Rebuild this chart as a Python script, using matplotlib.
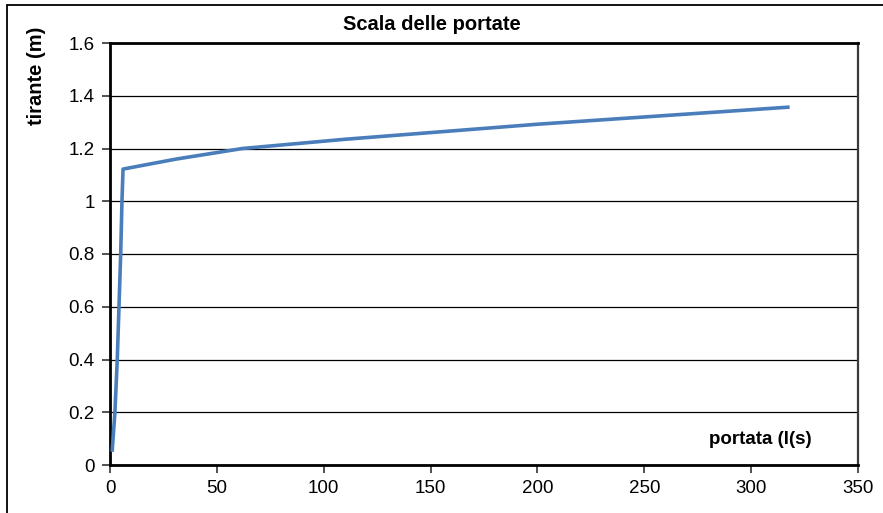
import matplotlib
matplotlib.use("Agg")
import matplotlib.pyplot as plt
from matplotlib.patches import Rectangle

plt.rcParams['font.family'] = ['Liberation Sans', 'DejaVu Sans']

# Rating curve: discharge (l/s) vs stage (m)
portata = [1.0, 2.3, 3.4, 4.2, 5.0, 5.6, 6.1, 31.0, 62.0, 110.0, 200.0, 318.0]
tirante = [0.05, 0.20, 0.40, 0.60, 0.80, 1.00, 1.122, 1.16, 1.20, 1.235, 1.292, 1.357]

x_ticks = [0, 50, 100, 150, 200, 250, 300, 350]
y_ticks = [0, 0.2, 0.4, 0.6, 0.8, 1.0, 1.2, 1.4, 1.6]
y_labels = ['0', '0.2', '0.4', '0.6', '0.8', '1', '1.2', '1.4', '1.6']

W, H = 883, 513
fig = plt.figure(figsize=(W / 100, H / 100), dpi=100)
ax = fig.add_axes([110 / W, 1 - 465 / H, (858 - 110) / W, (465 - 43) / H])

ax.plot(portata, tirante, color='#4A7EBB', lw=2.6, solid_capstyle='butt', zorder=3)

ax.set_xlim(0, 350)
ax.set_ylim(0, 1.6)
ax.set_xticks(x_ticks)
ax.set_yticks(y_ticks)
ax.set_yticklabels(y_labels)
ax.tick_params(axis='both', direction='out', length=6, width=1.2, color='#333333',
               labelsize=13.5, pad=5)
ax.grid(axis='y', color='black', lw=0.9, zorder=1)

for side in ('left', 'bottom', 'top'):
    ax.spines[side].set_linewidth(2.0)
    ax.spines[side].set_color('black')
ax.spines['right'].set_linewidth(1.6)
ax.spines['right'].set_color('#3a3a3a')

fig.text(812 / W, 1 - 440 / H, 'portata (l(s)', ha='right', va='center',
         fontsize=13.5, fontweight='bold')
fig.text(432 / W, 1 - 24 / H, 'Scala delle portate', ha='center', va='center',
         fontsize=14.5, fontweight='bold')
fig.text(36 / W, 1 - 27 / H, 'tirante (m)', rotation=90, ha='center', va='top',
         fontsize=14.5, fontweight='bold')

# Chart-area frame
fig.patches.append(Rectangle((7 / W, -0.05), 1.0, 1 - 5 / H + 0.05,
                             transform=fig.transFigure, fill=False,
                             edgecolor='black', lw=1.3))

fig.savefig('out.png', dpi=100)
